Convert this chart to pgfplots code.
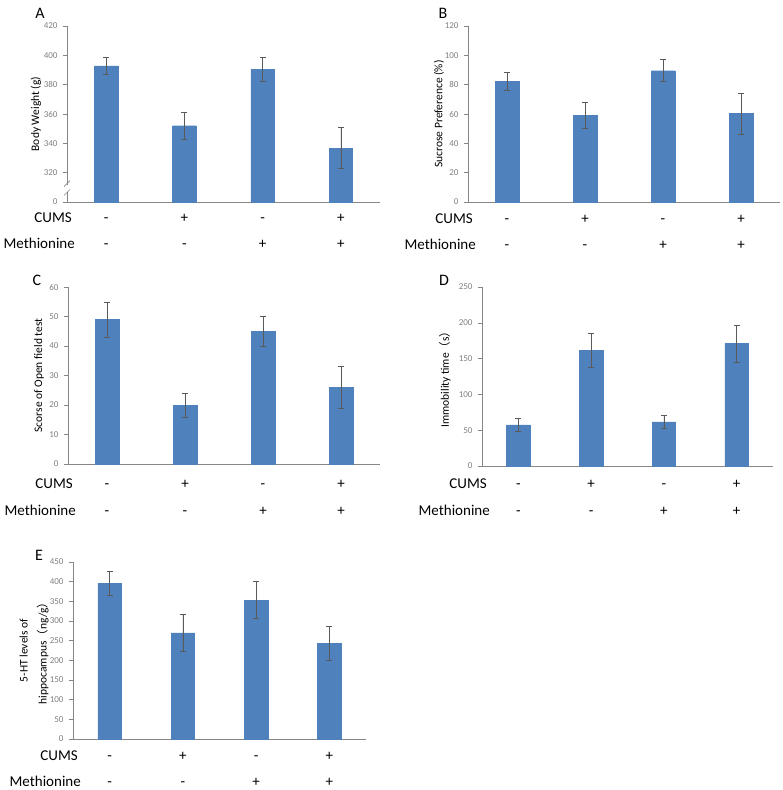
\documentclass[border=0pt]{standalone}
\usepackage{fontspec}
\setmainfont{Carlito}
\newfontfamily\cjk{Noto Sans CJK SC}
\usepackage{pgfplots}
\pgfplotsset{compat=1.18}
\definecolor{barblue}{HTML}{4F81BD}
\definecolor{axgray}{HTML}{868686}
\definecolor{tickgray}{HTML}{7F7F7F}
\definecolor{errgray}{HTML}{5A5A5A}
\tikzset{rowlab/.style={font=\fontsize{15}{15}\selectfont, inner sep=0pt},
         letter/.style={font=\fontsize{16}{16}\selectfont, inner sep=0pt, anchor=center}}
\pgfplotsset{
 panel/.style={
  scale only axis,
  xmin=-0.5, xmax=3.5, ymin=0,
  axis x line*=bottom, axis y line*=left,
  axis line style={axgray, line width=0.7pt, -},
  xtick=\empty,
  ytick style={axgray, line width=0.6pt},
  tick align=outside,
  major tick length=4pt,
  yticklabel style={font=\fontsize{9}{9}\selectfont, text=tickgray, xshift=-2pt},
  /pgf/number format/assume math mode=true,
  ylabel style={font=\fontsize{11.5}{11.5}\selectfont, anchor=center},
  clip=false,
  ybar, bar width=23.5pt,
 },
 bars/.style={fill=barblue, draw=barblue, line width=0.3pt,
  error bars/.cd, y dir=both, y explicit,
  error bar style={errgray, line width=0.5pt},
  error mark options={rotate=90, errgray, mark size=3pt, line width=0.5pt}},
}
\newcommand{\rowlabels}[2]{%
 \node[rowlab,anchor=base east] at ([xshift=5pt,yshift=-#1pt]rel axis cs:0,0) {CUMS};
 \node[rowlab,anchor=base east] at ([xshift=8pt,yshift=-#2pt]rel axis cs:0,0) {Methionine};
 \node[rowlab,anchor=base] at ([yshift=-#1pt]axis cs:0,0) {-};
 \node[rowlab,anchor=base] at ([yshift=-#1pt]axis cs:1,0) {+};
 \node[rowlab,anchor=base] at ([yshift=-#1pt]axis cs:2,0) {-};
 \node[rowlab,anchor=base] at ([yshift=-#1pt]axis cs:3,0) {+};
 \node[rowlab,anchor=base] at ([yshift=-#2pt]axis cs:0,0) {-};
 \node[rowlab,anchor=base] at ([yshift=-#2pt]axis cs:1,0) {-};
 \node[rowlab,anchor=base] at ([yshift=-#2pt]axis cs:2,0) {+};
 \node[rowlab,anchor=base] at ([yshift=-#2pt]axis cs:3,0) {+};
}
\begin{document}
\begin{tikzpicture}
\useasboundingbox (0pt,0pt) rectangle (783pt,-790pt);

% Panel A (broken axis: displayed value = weight - 300)
\begin{axis}[panel, at={(67pt,-202pt)}, anchor=south west, width=313pt, height=176pt,
  ymax=120, ytick={0,20,40,60,80,100,120},
  yticklabels={0,320,340,360,380,400,420},
  ylabel={Body Weight (g)},
  ylabel style={at={([xshift=-31pt]axis description cs:0,0.5)}}]
\addplot[bars] coordinates {(0,92.8) +- (0,5.9) (1,52) +- (0,9.2) (2,90.5) +- (0,7.9) (3,36.8) +- (0,13.9)};
\draw[white, line width=3pt] (axis cs:-0.5,7) -- (axis cs:-0.5,11.5);
\draw[axgray, line width=0.6pt] ([xshift=-3pt,yshift=-3pt]axis cs:-0.5,6.5) -- ([xshift=3pt,yshift=3pt]axis cs:-0.5,6.5);
\draw[axgray, line width=0.6pt] ([xshift=-3pt,yshift=-3pt]axis cs:-0.5,12.5) -- ([xshift=3pt,yshift=3pt]axis cs:-0.5,12.5);
\rowlabels{20}{46}
\end{axis}
\node[letter] at (40pt,-13pt) {A};

% Panel B
\begin{axis}[panel, at={(468pt,-202pt)}, anchor=south west, width=312pt, height=176pt,
  ymax=120, ytick={0,20,40,60,80,100,120},
  ylabel={Sucrose Preference (\%)},
  ylabel style={at={([xshift=-29pt]axis description cs:0,0.5)}}]
\addplot[bars] coordinates {(0,82.3) +- (0,6) (1,59) +- (0,9) (2,89.5) +- (0,7.5) (3,60.3) +- (0,14)};
\rowlabels{21}{47}
\end{axis}
\node[letter] at (443pt,-13pt) {B};

% Panel C
\begin{axis}[panel, at={(68pt,-464pt)}, anchor=south west, width=312pt, height=177pt,
  ymax=60, ytick={0,10,20,30,40,50,60},
  ylabel={Scorse of Open field test},
  ylabel style={at={([xshift=-29pt]axis description cs:0,0.5)}}]
\addplot[bars] coordinates {(0,49) +- (0,6) (1,20) +- (0,4) (2,45) +- (0,5) (3,26) +- (0,7)};
\rowlabels{24}{51}
\end{axis}
\node[letter] at (37pt,-280pt) {C};

% Panel D
\begin{axis}[panel, at={(482pt,-466pt)}, anchor=south west, width=291pt, height=179pt,
  ymax=250, ytick={0,50,100,150,200,250},
  ylabel={Immobility time{\cjk （}s{\cjk ）}},
  ylabel style={at={([xshift=-37pt]axis description cs:0,0.5)}}]
\addplot[bars] coordinates {(0,57.5) +- (0,9.5) (1,162) +- (0,24) (2,61.7) +- (0,9.5) (3,171) +- (0,26)};
\rowlabels{22}{49}
\end{axis}
\node[letter] at (444pt,-280pt) {D};

% Panel E
\begin{axis}[panel, at={(73pt,-739pt)}, anchor=south west, width=293pt, height=177pt,
  ymax=450, ytick={0,50,100,150,200,250,300,350,400,450},
  ylabel={5-HT levels of\\hippocampus{\cjk （}ng/g{\cjk ）}},
  ylabel style={align=center, font=\fontsize{11.5}{19}\selectfont, at={([xshift=-39pt]axis description cs:0,0.5)}}]
\addplot[bars] coordinates {(0,396) +- (0,31) (1,270) +- (0,46) (2,353) +- (0,47) (3,243.6) +- (0,44)};
\rowlabels{21}{47}
\end{axis}
\node[letter] at (39pt,-555pt) {E};
\end{tikzpicture}
\end{document}
